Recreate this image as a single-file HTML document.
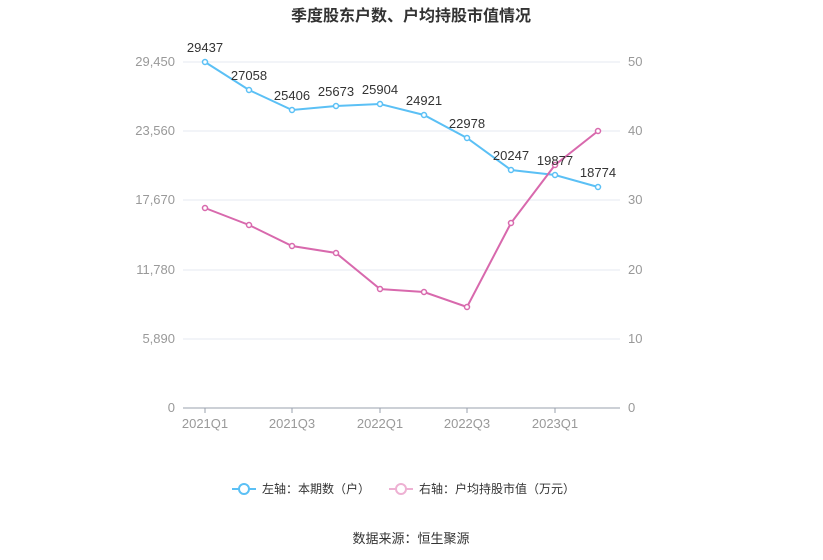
<!DOCTYPE html><html><head><meta charset="utf-8"><style>body{margin:0;background:#fff}svg{display:block}text{font-family:"Liberation Sans","Noto Sans CJK SC",sans-serif}</style></head><body>
<svg width="823" height="560" xmlns="http://www.w3.org/2000/svg">
<text x="411" y="21" text-anchor="middle" font-size="16" font-weight="bold" fill="#333">季度股东户数、户均持股市值情况</text>
<g stroke="#e6e8f0" stroke-width="1"><line x1="183" y1="62" x2="620" y2="62"/><line x1="183" y1="131" x2="620" y2="131"/><line x1="183" y1="200" x2="620" y2="200"/><line x1="183" y1="270" x2="620" y2="270"/><line x1="183" y1="339" x2="620" y2="339"/></g>
<line x1="183" y1="408" x2="620" y2="408" stroke="#9aa0ad" stroke-width="1"/>
<g stroke="#9aa0ad"><line x1="205" y1="408" x2="205" y2="413"/><line x1="292" y1="408" x2="292" y2="413"/><line x1="380" y1="408" x2="380" y2="413"/><line x1="467" y1="408" x2="467" y2="413"/><line x1="555" y1="408" x2="555" y2="413"/></g>
<g font-size="13" fill="#999" text-anchor="end"><text x="175" y="66">29,450</text><text x="175" y="135">23,560</text><text x="175" y="204">17,670</text><text x="175" y="274">11,780</text><text x="175" y="343">5,890</text><text x="175" y="412">0</text></g>
<g font-size="13" fill="#999"><text x="628" y="66">50</text><text x="628" y="135">40</text><text x="628" y="204">30</text><text x="628" y="274">20</text><text x="628" y="343">10</text><text x="628" y="412">0</text></g>
<g font-size="13" fill="#999" text-anchor="middle"><text x="205" y="428">2021Q1</text><text x="292" y="428">2021Q3</text><text x="380" y="428">2022Q1</text><text x="467" y="428">2022Q3</text><text x="555" y="428">2023Q1</text></g>
<polyline fill="none" stroke="#5bc0f5" stroke-width="2" points="205,62 249,90 292,110 336,106 380,104 424,115 467,138 511,170 555,175 598,187"/>
<polyline fill="none" stroke="#d869ad" stroke-width="2" points="205,208 249,225 292,246 336,253 380,289 424,292 467,307 511,223 555,165 598,131"/>
<g fill="#fff" stroke="#5bc0f5" stroke-width="1.5"><circle cx="205" cy="62" r="2.5"/><circle cx="249" cy="90" r="2.5"/><circle cx="292" cy="110" r="2.5"/><circle cx="336" cy="106" r="2.5"/><circle cx="380" cy="104" r="2.5"/><circle cx="424" cy="115" r="2.5"/><circle cx="467" cy="138" r="2.5"/><circle cx="511" cy="170" r="2.5"/><circle cx="555" cy="175" r="2.5"/><circle cx="598" cy="187" r="2.5"/></g>
<g fill="#fff" stroke="#d869ad" stroke-width="1.5"><circle cx="205" cy="208" r="2.5"/><circle cx="249" cy="225" r="2.5"/><circle cx="292" cy="246" r="2.5"/><circle cx="336" cy="253" r="2.5"/><circle cx="380" cy="289" r="2.5"/><circle cx="424" cy="292" r="2.5"/><circle cx="467" cy="307" r="2.5"/><circle cx="511" cy="223" r="2.5"/><circle cx="555" cy="165" r="2.5"/><circle cx="598" cy="131" r="2.5"/></g>
<g font-size="13" fill="#333" text-anchor="middle"><text x="205" y="52">29437</text><text x="249" y="80">27058</text><text x="292" y="100">25406</text><text x="336" y="96">25673</text><text x="380" y="94">25904</text><text x="424" y="105">24921</text><text x="467" y="128">22978</text><text x="511" y="160">20247</text><text x="555" y="165">19877</text><text x="598" y="177">18774</text></g>
<line x1="232" y1="489" x2="256" y2="489" stroke="#5bc0f5" stroke-width="2"/><circle cx="244" cy="489" r="5" fill="#fff" stroke="#5bc0f5" stroke-width="2"/>
<text x="262" y="493" font-size="12" fill="#333">左轴：本期数（户）</text>
<line x1="389" y1="489" x2="413" y2="489" stroke="#eeb1d3" stroke-width="2"/><circle cx="401" cy="489" r="5" fill="#fff" stroke="#eeb1d3" stroke-width="2"/>
<text x="419" y="493" font-size="12" fill="#333">右轴：户均持股市值（万元）</text>
<text x="411" y="543" text-anchor="middle" font-size="13" fill="#333">数据来源：恒生聚源</text>
</svg></body></html>
